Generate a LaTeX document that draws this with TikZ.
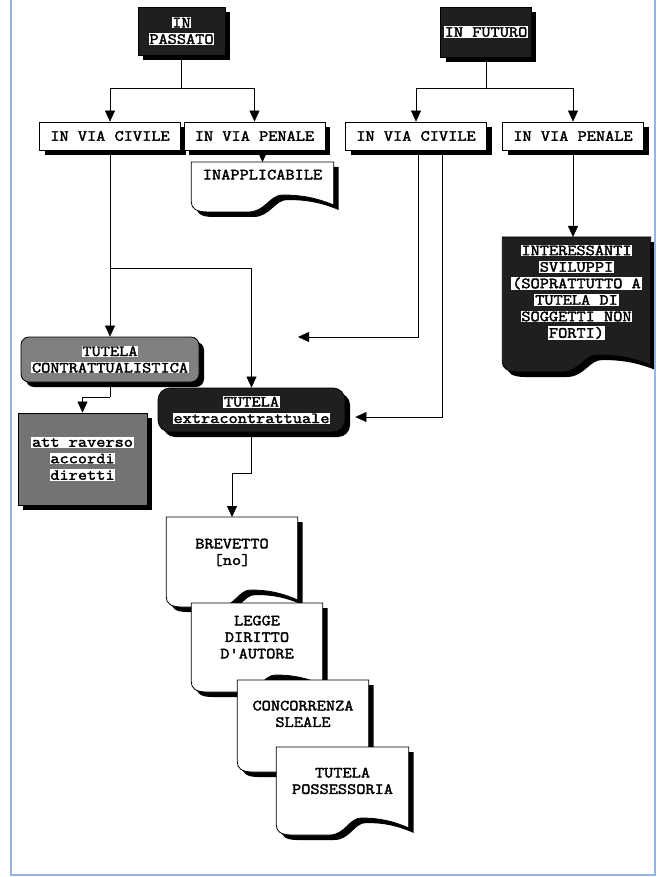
\documentclass[tikz,border=0pt]{standalone}
\usepackage{fontspec}
\newfontfamily\courb{Latin Modern Mono}[FakeBold=2.2,FakeStretch=1.15]
\usetikzlibrary{arrows.meta,shadows,backgrounds,calc}
\definecolor{frameblue}{RGB}{150,180,225}
\newcommand{\hl}[1]{{\setlength{\fboxsep}{0.8pt}\colorbox{white}{#1}}}
% wavy document outline of a text node: node, height, xshift, yshift
\newcommand{\docpath}[4]{%
  let \p1=(#1.north west), \p2=(#1.north east) in
  (\x1+#3pt,\y1+#4pt) -- (\x2+#3pt,\y1+#4pt) -- (\x2+#3pt,\y1-#2pt+7pt+#4pt)
  .. controls (\x2-0.12*\x2+0.12*\x1+#3pt,\y1-#2pt+14pt+#4pt) and (\x2-0.22*\x2+0.22*\x1+#3pt,\y1-#2pt+17pt+#4pt) .. (\x1+0.64*\x2-0.64*\x1+#3pt,\y1-#2pt+17pt+#4pt)
  .. controls (\x1+0.55*\x2-0.55*\x1+#3pt,\y1-#2pt+17pt+#4pt) and (\x1+0.52*\x2-0.52*\x1+#3pt,\y1-#2pt+#4pt) .. (\x1+0.4*\x2-0.4*\x1+#3pt,\y1-#2pt+#4pt)
  -- (\x1+0.12*\x2-0.12*\x1+#3pt,\y1-#2pt+#4pt)
  .. controls (\x1+0.03*\x2-0.03*\x1+#3pt,\y1-#2pt+#4pt) and (\x1+#3pt,\y1-#2pt+4pt+#4pt) .. (\x1+#3pt,\y1-#2pt+10pt+#4pt) -- cycle}
\newcommand{\docshape}[3]{%
\begin{pgfonlayer}{background}
\fill[black] \docpath{#1}{#2}{5}{-5};
\draw[line width=0.8pt,fill=#3] \docpath{#1}{#2}{0}{0};
\end{pgfonlayer}}
\begin{document}
\begin{tikzpicture}[x=1pt,y=-1pt,>={Triangle[length=11pt,width=10pt]},line width=1.4pt]
\tikzstyle{every node}=[font=\courb\fontsize{15.5}{16.5}\selectfont]
\tikzstyle{shade}=[drop shadow={shadow xshift=5pt,shadow yshift=-5pt,fill=black,opacity=1}]
\tikzstyle{head}=[draw,line width=0.8pt,fill=black!88,align=center,shade]
\tikzstyle{via}=[draw,line width=0.8pt,fill=white,minimum width=141pt,minimum height=28pt,shade]
\tikzstyle{doc}=[anchor=north,align=center,inner xsep=0pt]
\useasboundingbox (0,0) rectangle (658,877);
\draw[frameblue,line width=2pt] (11,0) -- (11,875) -- (655,875) -- (655,0);

\node[style={head,minimum width=87pt,minimum height=48pt}] (passato) at (181.5, 31) {\hl{IN}\\\hl{PASSATO}};
\node[style={head,minimum width=88pt,minimum height=50pt}] (futuro) at (486, 32) {\hl{IN FUTURO}};
\node[style=via] (civL) at (110, 136) {IN VIA CIVILE};
\node[style=via] (penL) at (254.5, 136) {IN VIA PENALE};
\node[style=via] (civR) at (416, 136) {IN VIA CIVILE};
\node[style=via] (penR) at (573, 136) {IN VIA PENALE};
\node[style={draw,line width=0.8pt,fill=black!50,rounded corners=8pt,minimum width=178pt,minimum height=45pt,align=center,shade}] (con) at (110, 359.5) {\hl{TUTELA}\\\hl{CONTRATTUALISTICA}};
\node[style={draw,line width=0.8pt,fill=black!88,rounded corners=12pt,minimum width=187pt,minimum height=44pt,align=center,shade}] (ext) at (251.5, 410) {\hl{TUTELA}\\\hl{extracontrattuale}};
\node[style={draw,line width=0.8pt,fill=black!55,minimum width=129pt,minimum height=92pt,align=center,shade}] (att) at (82.5, 459) {\hl{att raverso}\\\hl{accordi}\\\hl{diretti}};

\node[style={doc,minimum width=141pt,inner ysep=7pt}] (inapp) at (262.5, 162) {INAPPLICABILE};
\node[style={doc,minimum width=147pt,inner ysep=7pt}] (inter) at (576.5, 237) {\hl{INTERESSANTI}\\\hl{SVILUPPI}\\\hl{(SOPRATTUTTO A}\\\hl{TUTELA DI}\\\hl{SOGGETTI NON}\\\hl{FORTI)}};
\node[style={doc,minimum width=130pt,inner ysep=21pt}] (brev) at (232, 517) {BREVETTO\\{[no]}};
\node[style={doc,minimum width=130pt,inner ysep=12pt}] (legge) at (257, 603) {LEGGE\\DIRITTO\\D'AUTORE};
\node[style={doc,minimum width=130pt,inner ysep=20pt}] (conc) at (303, 680) {CONCORRENZA\\SLEALE};
\node[style={doc,minimum width=131pt,inner ysep=20pt}] (poss) at (342.5, 747) {TUTELA\\POSSESSORIA};
\docshape{inapp}{50}{white}
\docshape{inter}{135}{black!88}
\docshape{brev}{90}{white}
\docshape{legge}{89}{white}
\docshape{conc}{92}{white}
\docshape{poss}{88}{white}

\coordinate (jP) at (passato |- 0,88);
\coordinate (jF) at (futuro |- 0,88);
\coordinate (jC) at (civL |- 0,268);
\coordinate (jA) at (con |- 0,397);
\coordinate (jE) at (ext |- 0,473);
\coordinate (freeA) at (298,337);
\draw (passato) -- (jP);
\draw[->] (jP) -| (civL);
\draw[->] (jP) -| (penL);
\draw (futuro) -- (jF);
\draw[->] (jF) -| (civR);
\draw[->] (jF) -| (penR);
\draw[->] (penL.south -| inapp.north) -- (inapp.north);
\draw[->] (civL) -- (con);
\draw[->] (jC) -| (ext);
\draw (con) -- (jA);
\draw[->] (jA) -| (att);
\draw (ext) -- (jE);
\draw[->] (jE) -| (brev);
\draw[->] ([xshift=2pt]civR.south) |- (freeA);
\draw[->] ([xshift=26pt]civR.south) |- ([xshift=10pt,yshift=-7pt]ext.east);
\draw[->] (penR) -- (penR |- inter.north);
\end{tikzpicture}
\end{document}
